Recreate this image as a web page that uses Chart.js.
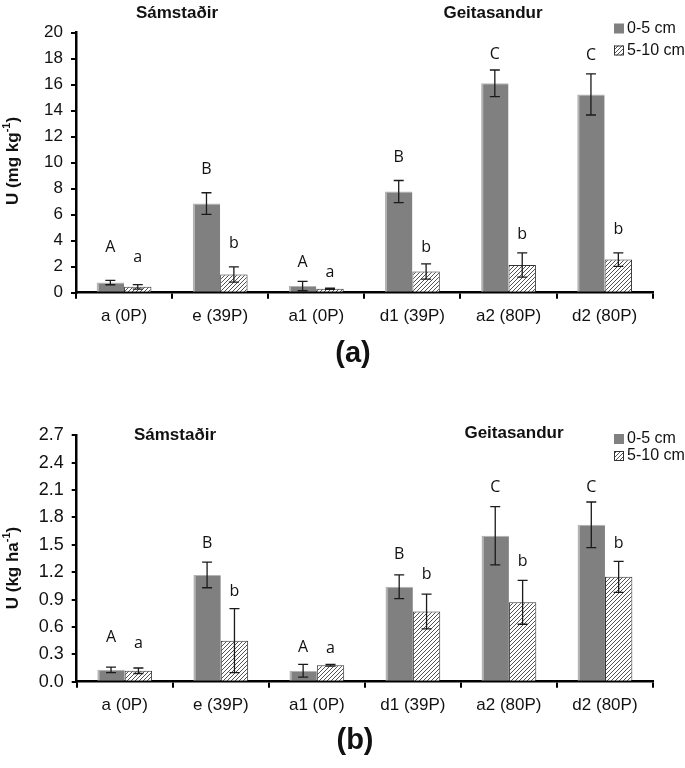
<!DOCTYPE html>
<html>
<head>
<meta charset="utf-8">
<script src="https://cdn.jsdelivr.net/npm/chart.js@4"></script>
<style>
  html, body { margin: 0; padding: 0; background: #fff; }
  body { width: 685px; height: 768px; position: relative; overflow: hidden; }
  .wrap { position: absolute; left: 0; width: 685px; }
  #wa { top: 0; height: 385px; }
  #wb { top: 400px; height: 368px; }
</style>
</head>
<body>
<div class="wrap" id="wa"><canvas id="ca" width="685" height="385"></canvas></div>
<div class="wrap" id="wb"><canvas id="cb" width="685" height="368"></canvas></div>
<script>
// ---------- data ----------
const categories = ['a (0P)', 'e (39P)', 'a1 (0P)', 'd1 (39P)', 'a2 (80P)', 'd2 (80P)'];
const seriesNames = ['0-5 cm', '5-10 cm'];
const sites = ['Sámstaðir', 'Geitasandur'];

// panel (a): U (mg kg-1)
const mgKg_0_5 = [0.78, 6.86, 0.51, 7.78, 16.11, 15.25];
const mgKg_0_5_err = [0.17, 0.83, 0.36, 0.85, 1.02, 1.58];
const mgKg_5_10 = [0.45, 1.40, 0.30, 1.63, 2.13, 2.55];
const mgKg_5_10_err = [0.17, 0.58, 0.05, 0.58, 0.93, 0.52];
const mgKg_letters_0_5 = ['A', 'B', 'A', 'B', 'C', 'C'];
const mgKg_letters_5_10 = ['a', 'b', 'a', 'b', 'b', 'b'];
const mgKg_letterAt_0_5 = [3.45, 9.45, 2.34, 10.39, 18.35, 18.27];
const mgKg_letterAt_5_10 = [2.68, 3.79, 1.55, 3.48, 4.47, 4.85];
const mgKg_ticks = { min: 0, max: 20, step: 2 };

// panel (b): U (kg ha-1)
const kgHa_0_5 = [0.13, 1.17, 0.12, 1.04, 1.60, 1.72];
const kgHa_0_5_err = [0.03, 0.14, 0.07, 0.13, 0.32, 0.25];
const kgHa_5_10 = [0.12, 0.45, 0.18, 0.77, 0.87, 1.15];
const kgHa_5_10_err = [0.03, 0.35, 0.01, 0.19, 0.24, 0.17];
const kgHa_letters_0_5 = ['A', 'B', 'A', 'B', 'C', 'C'];
const kgHa_letters_5_10 = ['a', 'b', 'a', 'b', 'b', 'b'];
const kgHa_letterAt_0_5 = [0.49, 1.514, 0.376, 1.391, 2.129, 2.129];
const kgHa_letterAt_5_10 = [0.415, 0.99, 0.369, 1.171, 1.319, 1.514];
const kgHa_ticks = { min: 0, max: 2.7, step: 0.3 };

// ---------- styling helpers ----------
const GRAY = '#808080';
const FONT = "'Liberation Sans', Arial, sans-serif";

function makeHatch() {
  const n = 4;
  const c = document.createElement('canvas');
  c.width = n; c.height = n;
  const g = c.getContext('2d');
  g.fillStyle = '#ffffff';
  g.fillRect(0, 0, n, n);
  g.strokeStyle = '#404040';
  g.lineWidth = 0.9;
  g.beginPath();
  g.moveTo(0, n); g.lineTo(n, 0);
  g.moveTo(-1, 1); g.lineTo(1, -1);
  g.moveTo(n - 1, n + 1); g.lineTo(n + 1, n - 1);
  g.stroke();
  return g.createPattern(c, 'repeat');
}
const HATCH = makeHatch();

const annotPlugin = {
  id: 'annot',
  afterDatasetsDraw(chart, args, o) {
    const ctx = chart.ctx;
    const ys = chart.scales.y;
    ctx.save();
    // error bars
    chart.data.datasets.forEach((ds, i) => {
      const meta = chart.getDatasetMeta(i);
      meta.data.forEach((el, j) => {
        const v = ds.data[j], e = o.errors[i][j];
        const yt = ys.getPixelForValue(v + e);
        const yb = ys.getPixelForValue(Math.max(0, v - e));
        const x = el.x;
        ctx.strokeStyle = '#1a1a1a';
        ctx.lineWidth = 1.3;
        ctx.beginPath();
        ctx.moveTo(x, yt); ctx.lineTo(x, yb);
        ctx.moveTo(x - 5, yt); ctx.lineTo(x + 5, yt);
        ctx.moveTo(x - 5, yb); ctx.lineTo(x + 5, yb);
        ctx.stroke();
      });
    });
    // significance letters
    ctx.fillStyle = '#111';
    ctx.font = "16px 'Open Sans', " + FONT;
    ctx.textAlign = 'center';
    ctx.textBaseline = 'middle';
    chart.data.datasets.forEach((ds, i) => {
      const meta = chart.getDatasetMeta(i);
      meta.data.forEach((el, j) => {
        ctx.fillText(o.letters[i][j], el.x, ys.getPixelForValue(o.letterAt[i][j]));
      });
    });
    // site names
    ctx.font = 'bold 17px ' + FONT;
    o.siteLabels.forEach(s => ctx.fillText(s.text, s.x, s.y));
    // panel label
    ctx.font = 'bold 29px ' + FONT;
    ctx.fillText(o.panel.text, o.panel.x, o.panel.y);
    // legend
    ctx.font = '16px ' + FONT;
    ctx.textAlign = 'left';
    chart.data.datasets.forEach((ds, i) => {
      const ly = o.legend.y[i];
      const bx = o.legend.x, by = ly - 5;
      ctx.fillStyle = ds.backgroundColor;
      ctx.fillRect(bx, by, 10, 10);
      if (i === 1) {
        ctx.strokeStyle = '#333';
        ctx.lineWidth = 1;
        ctx.strokeRect(bx + 0.5, by + 0.5, 9, 9);
      }
      ctx.fillStyle = '#111';
      ctx.fillText(ds.label, bx + 13, ly);
    });
    // y-axis title with superscript
    const t = o.yTitle;
    ctx.translate(t.x, t.y);
    ctx.rotate(-Math.PI / 2);
    const fMain = 'bold 17px ' + FONT, fSup = 'bold 11px ' + FONT;
    ctx.font = fMain; const w1 = ctx.measureText(t.main).width; const w3 = ctx.measureText(')').width;
    ctx.font = fSup; const w2 = ctx.measureText(t.sup).width;
    let x0 = -(w1 + w2 + w3) / 2;
    ctx.fillStyle = '#111';
    ctx.textAlign = 'left';
    ctx.textBaseline = 'middle';
    ctx.font = fMain; ctx.fillText(t.main, x0, 0);
    ctx.font = fSup; ctx.fillText(t.sup, x0 + w1, -6);
    ctx.font = fMain; ctx.fillText(')', x0 + w1 + w2, 0);
    ctx.restore();
  }
};

function makeChart(id, d0, d1, e0, e1, l0, l1, la0, la1, tk, opts) {
  return new Chart(document.getElementById(id), {
    type: 'bar',
    data: {
      labels: categories,
      datasets: [
        { label: seriesNames[0], data: d0, backgroundColor: GRAY,
          borderColor: '#b3b3b3', borderWidth: { top: 1, left: 2, right: 0, bottom: 0 }, borderSkipped: false },
        { label: seriesNames[1], data: d1, backgroundColor: HATCH,
          borderColor: '#333333', borderWidth: 1, borderSkipped: 'bottom' }
      ]
    },
    options: {
      responsive: false,
      animation: false,
      layout: { padding: { top: opts.padTop, right: opts.padRight, left: 0, bottom: 0 } },
      plugins: {
        legend: { display: false },
        tooltip: { enabled: false },
        annot: {
          errors: [e0, e1],
          letters: [l0, l1],
          letterAt: [la0, la1],
          siteLabels: opts.siteLabels,
          panel: opts.panel,
          legend: opts.legend,
          yTitle: opts.yTitle
        }
      },
      datasets: { bar: { categoryPercentage: 0.57, barPercentage: 1.0 } },
      scales: {
        x: {
          afterFit: s => { s.height = opts.xHeight; },
          grid: { display: true, drawOnChartArea: false, offset: true, color: '#000', lineWidth: 2, tickLength: 6, tickWidth: 2 },
          border: { display: true, color: '#000', width: 2.5 },
          ticks: { color: '#111', font: { family: FONT, size: 17 }, padding: 7, maxRotation: 0 }
        },
        y: {
          min: tk.min, max: tk.max,
          afterFit: s => { s.width = opts.yWidth; },
          grid: { display: true, drawOnChartArea: false, color: '#000', lineWidth: 2, tickLength: 5, tickWidth: 2 },
          border: { display: true, color: '#000', width: 2.5 },
          ticks: { stepSize: tk.step, color: '#111', font: { family: FONT, size: opts.yFont }, padding: 8,
                   callback: v => opts.decimals ? Number(v).toFixed(opts.decimals) : v }
        }
      }
    },
    plugins: [annotPlugin]
  });
}

makeChart('ca', mgKg_0_5, mgKg_5_10, mgKg_0_5_err, mgKg_5_10_err,
  mgKg_letters_0_5, mgKg_letters_5_10, mgKg_letterAt_0_5, mgKg_letterAt_5_10, mgKg_ticks, {
  padTop: 32.7, padRight: 32.3, xHeight: 385 - 292.7, yWidth: 76, yFont: 17, decimals: 0,
  siteLabels: [{ text: sites[0], x: 177, y: 13 }, { text: sites[1], x: 493, y: 13 }],
  panel: { text: '(a)', x: 353, y: 354 },
  legend: { x: 614, y: [28.5, 50.5] },
  yTitle: { x: 13, y: 161, main: 'U (mg kg', sup: '-1' }
});

makeChart('cb', kgHa_0_5, kgHa_5_10, kgHa_0_5_err, kgHa_5_10_err,
  kgHa_letters_0_5, kgHa_letters_5_10, kgHa_letterAt_0_5, kgHa_letterAt_5_10, kgHa_ticks, {
  padTop: 35.4, padRight: 32, xHeight: 368 - 281.7, yWidth: 76.7, yFont: 18, decimals: 1,
  siteLabels: [{ text: sites[0], x: 175, y: 35 }, { text: sites[1], x: 514, y: 33 }],
  panel: { text: '(b)', x: 355, y: 341 },
  legend: { x: 614, y: [39, 56] },
  yTitle: { x: 13, y: 168, main: 'U (kg ha', sup: '-1' }
});
</script>
</body>
</html>
